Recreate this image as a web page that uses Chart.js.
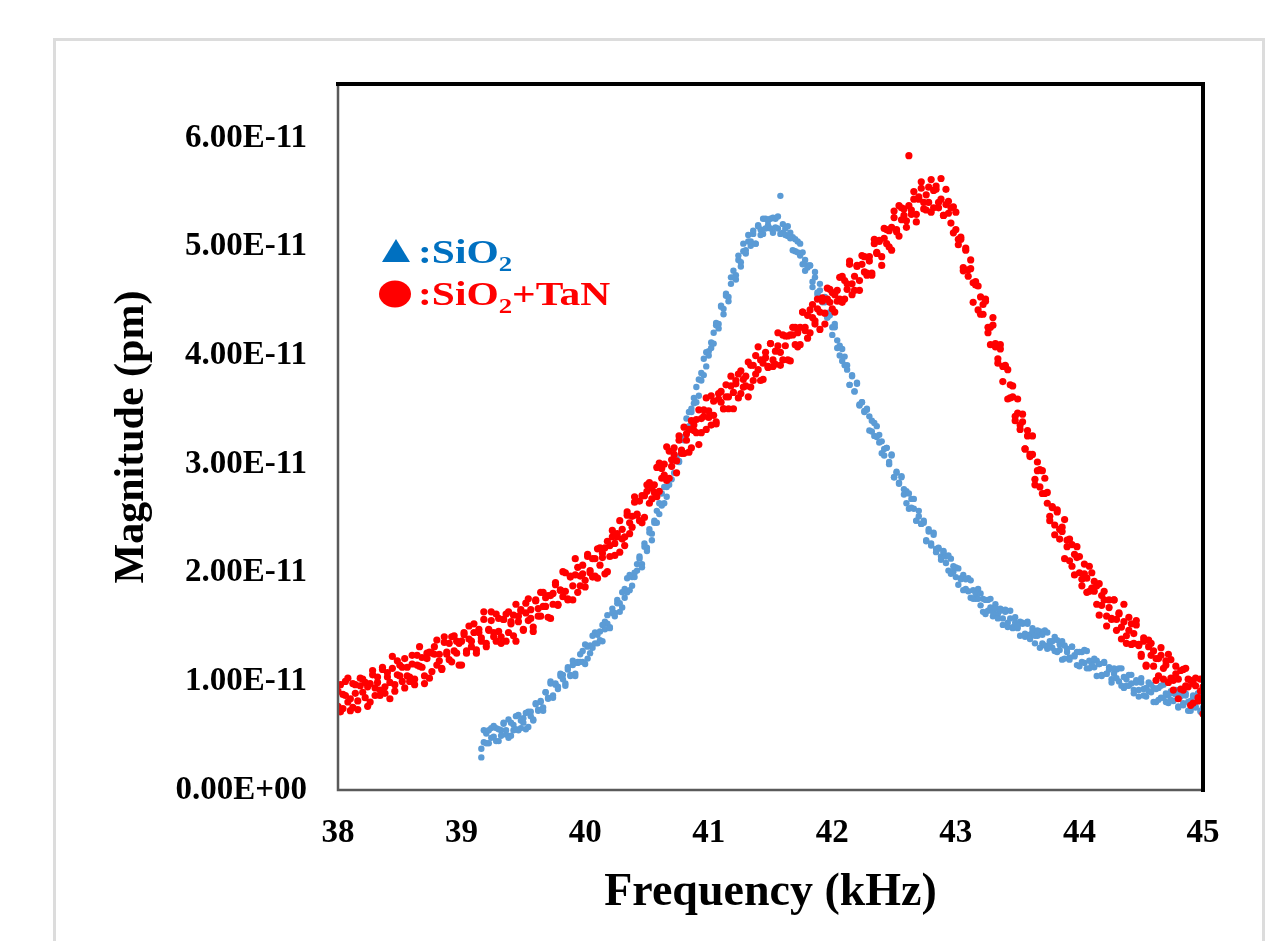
<!DOCTYPE html>
<html>
<head>
<meta charset="utf-8">
<title>Magnitude vs Frequency</title>
<script src="https://cdn.jsdelivr.net/npm/chart.js@4.4.1/dist/chart.umd.min.js"></script>
<style>
  html, body { margin: 0; padding: 0; background: #fff; }
  #wrap { position: relative; width: 1280px; height: 941px; overflow: hidden; }
  #frame { position: absolute; left: 53px; top: 38px; width: 1206px; height: 920px;
           border: 3px solid #dcdcdc; border-bottom: none; }
  #chart { position: absolute; left: 0; top: 0; }
</style>
</head>
<body>
<div id="wrap">
  <div id="frame"></div>
  <canvas id="chart" width="1280" height="941"></canvas>
</div>
<script>
// frequency sweep (kHz), shared by both samples and both sweeps
const freqKHz = [
  38.00,38.02,38.04,38.06,38.08,38.10,38.12,38.14,38.16,38.18,38.20,38.22,38.24,38.26,38.28,38.30,38.32,38.34,38.36,38.38,38.40,38.42,38.44,38.46,38.48,
  38.50,38.52,38.54,38.56,38.58,38.60,38.62,38.64,38.66,38.68,38.70,38.72,38.74,38.76,38.78,38.80,38.82,38.84,38.86,38.88,38.90,38.92,38.94,38.96,38.98,
  39.00,39.02,39.04,39.06,39.08,39.10,39.12,39.14,39.16,39.18,39.20,39.22,39.24,39.26,39.28,39.30,39.32,39.34,39.36,39.38,39.40,39.42,39.44,39.46,39.48,
  39.50,39.52,39.54,39.56,39.58,39.60,39.62,39.64,39.66,39.68,39.70,39.72,39.74,39.76,39.78,39.80,39.82,39.84,39.86,39.88,39.90,39.92,39.94,39.96,39.98,
  40.00,40.02,40.04,40.06,40.08,40.10,40.12,40.14,40.16,40.18,40.20,40.22,40.24,40.26,40.28,40.30,40.32,40.34,40.36,40.38,40.40,40.42,40.44,40.46,40.48,
  40.50,40.52,40.54,40.56,40.58,40.60,40.62,40.64,40.66,40.68,40.70,40.72,40.74,40.76,40.78,40.80,40.82,40.84,40.86,40.88,40.90,40.92,40.94,40.96,40.98,
  41.00,41.02,41.04,41.06,41.08,41.10,41.12,41.14,41.16,41.18,41.20,41.22,41.24,41.26,41.28,41.30,41.32,41.34,41.36,41.38,41.40,41.42,41.44,41.46,41.48,
  41.50,41.52,41.54,41.56,41.58,41.60,41.62,41.64,41.66,41.68,41.70,41.72,41.74,41.76,41.78,41.80,41.82,41.84,41.86,41.88,41.90,41.92,41.94,41.96,41.98,
  42.00,42.02,42.04,42.06,42.08,42.10,42.12,42.14,42.16,42.18,42.20,42.22,42.24,42.26,42.28,42.30,42.32,42.34,42.36,42.38,42.40,42.42,42.44,42.46,42.48,
  42.50,42.52,42.54,42.56,42.58,42.60,42.62,42.64,42.66,42.68,42.70,42.72,42.74,42.76,42.78,42.80,42.82,42.84,42.86,42.88,42.90,42.92,42.94,42.96,42.98,
  43.00,43.02,43.04,43.06,43.08,43.10,43.12,43.14,43.16,43.18,43.20,43.22,43.24,43.26,43.28,43.30,43.32,43.34,43.36,43.38,43.40,43.42,43.44,43.46,43.48,
  43.50,43.52,43.54,43.56,43.58,43.60,43.62,43.64,43.66,43.68,43.70,43.72,43.74,43.76,43.78,43.80,43.82,43.84,43.86,43.88,43.90,43.92,43.94,43.96,43.98,
  44.00,44.02,44.04,44.06,44.08,44.10,44.12,44.14,44.16,44.18,44.20,44.22,44.24,44.26,44.28,44.30,44.32,44.34,44.36,44.38,44.40,44.42,44.44,44.46,44.48,
  44.50,44.52,44.54,44.56,44.58,44.60,44.62,44.64,44.66,44.68,44.70,44.72,44.74,44.76,44.78,44.80,44.82,44.84,44.86,44.88,44.90,44.92,44.94,44.96,44.98,
  45.00
];

// SiO2+TaN magnitude, units of 1E-11, first sweep
const tanMagA = [
  0.91,0.72,0.88,1.00,0.81,0.73,0.98,0.89,0.82,1.03,0.90,0.99,0.77,0.98,1.06,0.87,0.99,0.92,1.13,0.89,1.08,0.99,1.23,0.91,1.06,
  1.15,1.00,1.21,1.05,1.00,1.16,0.97,1.24,1.14,1.22,0.98,1.21,1.27,1.09,1.25,1.38,1.19,1.11,1.36,1.27,1.20,1.41,1.28,1.37,1.15,
  1.37,1.45,1.26,1.39,1.32,1.53,1.29,1.48,1.40,1.64,1.32,1.47,1.56,1.41,1.62,1.46,1.41,1.57,1.37,1.64,1.53,1.61,1.37,1.60,1.66,
  1.47,1.63,1.76,1.58,1.50,1.75,1.67,1.60,1.82,1.69,1.79,1.58,1.81,1.89,1.71,1.84,1.78,2.00,1.76,1.96,1.88,2.13,1.82,1.97,2.07,
  1.93,2.15,2.00,1.96,2.13,1.95,2.23,2.14,2.23,2.01,2.25,2.33,2.16,2.33,2.48,2.31,2.25,2.53,2.46,2.42,2.65,2.54,2.66,2.46,2.71,
  2.81,2.64,2.78,2.74,2.97,2.75,2.96,2.90,3.16,2.87,3.04,3.15,3.03,3.26,3.13,3.10,3.28,3.11,3.40,3.31,3.41,3.18,3.42,3.50,3.32,
  3.49,3.63,3.45,3.39,3.65,3.57,3.51,3.73,3.62,3.72,3.51,3.74,3.83,3.65,3.78,3.72,3.94,3.71,3.91,3.83,4.08,3.77,3.93,4.03,3.89,
  4.11,3.96,3.92,4.09,3.91,4.19,4.09,4.18,3.95,4.19,4.26,4.08,4.26,4.40,4.23,4.16,4.42,4.35,4.29,4.52,4.40,4.50,4.29,4.52,4.61,
  4.43,4.56,4.50,4.72,4.49,4.69,4.61,4.87,4.56,4.73,4.83,4.69,4.92,4.77,4.74,4.91,4.74,5.03,4.95,5.05,4.83,5.08,5.16,5.00,5.18,
  5.33,5.16,5.10,5.36,5.29,5.24,5.84,5.34,5.44,5.23,5.46,5.54,5.35,5.48,5.41,5.62,5.36,5.53,5.41,5.63,5.29,5.39,5.42,5.22,5.37,
  5.16,5.02,5.09,4.81,4.99,4.79,4.80,4.49,4.65,4.64,4.38,4.47,4.52,4.26,4.10,4.28,4.11,3.97,4.10,3.90,3.91,3.60,3.73,3.72,3.44,
  3.47,3.32,3.46,3.14,3.26,3.09,3.26,2.86,2.94,2.95,2.73,2.87,2.64,2.52,2.61,2.35,2.56,2.40,2.42,2.13,2.30,2.31,2.06,2.17,2.24,
  2.00,1.88,2.08,1.95,1.83,2.00,1.83,1.88,1.61,1.79,1.83,1.60,1.68,1.58,1.75,1.47,1.63,1.50,1.71,1.35,1.47,1.53,1.35,1.52,1.33,
  1.25,1.37,1.15,1.38,1.24,1.28,1.01,1.21,1.24,1.02,1.15,1.25,1.03,0.92,1.14,1.02,0.93,1.11,0.96,1.02,0.78,0.98,1.03,0.82,0.91,
  0.70
];

// SiO2+TaN magnitude, units of 1E-11, second sweep
const tanMagB = [
  0.77,0.97,0.75,0.87,1.03,0.84,0.76,0.97,0.74,0.96,1.02,0.85,0.95,0.81,1.10,0.94,1.04,0.87,1.11,0.95,1.04,0.84,1.12,0.97,1.19,
  1.05,1.13,0.94,1.13,1.04,1.24,1.02,1.15,1.32,1.13,1.05,1.26,1.03,1.26,1.32,1.15,1.25,1.12,1.41,1.25,1.35,1.18,1.42,1.26,1.35,
  1.15,1.43,1.28,1.51,1.37,1.45,1.26,1.45,1.37,1.57,1.35,1.48,1.64,1.45,1.37,1.58,1.35,1.57,1.62,1.45,1.55,1.42,1.71,1.55,1.65,
  1.48,1.72,1.56,1.66,1.46,1.74,1.60,1.82,1.69,1.77,1.59,1.79,1.71,1.91,1.70,1.84,2.01,1.83,1.75,1.97,1.75,1.98,2.05,1.88,1.99,
  1.87,2.17,2.02,2.13,1.97,2.22,2.07,2.18,1.99,2.29,2.15,2.39,2.27,2.36,2.19,2.40,2.33,2.56,2.36,2.52,2.70,2.53,2.48,2.71,2.51,
  2.75,2.83,2.68,2.81,2.70,3.01,2.87,3.00,2.85,3.12,2.98,3.09,2.92,3.22,3.10,3.34,3.22,3.32,3.15,3.36,3.29,3.50,3.29,3.44,3.61,
  3.43,3.36,3.58,3.37,3.60,3.67,3.51,3.62,3.51,3.81,3.66,3.77,3.61,3.86,3.71,3.81,3.62,3.91,3.77,4.00,3.87,3.96,3.78,3.98,3.90,
  4.11,3.90,4.04,4.21,4.03,3.96,4.18,3.96,4.19,4.26,4.10,4.21,4.10,4.40,4.26,4.37,4.21,4.47,4.32,4.43,4.24,4.53,4.39,4.62,4.49,
  4.58,4.40,4.60,4.52,4.73,4.52,4.66,4.84,4.66,4.60,4.82,4.60,4.84,4.91,4.76,4.87,4.76,5.07,4.94,5.06,4.91,5.17,5.03,5.15,4.97,
  5.27,5.14,5.38,5.25,5.35,5.18,5.38,5.30,5.51,5.30,5.44,5.60,5.41,5.34,5.55,5.32,5.52,5.56,5.36,5.44,5.29,5.53,5.31,5.36,5.13,
  5.32,5.07,5.07,4.78,4.97,4.73,4.88,4.67,4.68,4.42,4.54,4.38,4.50,4.21,4.26,4.35,4.08,3.93,4.06,3.76,3.90,3.87,3.61,3.62,3.40,
  3.60,3.36,3.39,3.14,3.31,3.07,3.09,2.81,3.02,2.79,2.94,2.73,2.74,2.48,2.60,2.44,2.58,2.31,2.38,2.49,2.24,2.11,2.26,1.98,2.14,
  2.15,1.94,1.99,1.82,2.06,1.86,1.92,1.71,1.90,1.70,1.75,1.51,1.75,1.57,1.75,1.57,1.62,1.39,1.55,1.42,1.59,1.34,1.44,1.56,1.34,
  1.23,1.40,1.14,1.32,1.35,1.14,1.21,1.05,1.31,1.12,1.19,0.99,1.20,1.01,1.07,0.84,1.10,0.92,1.12,0.95,1.01,0.80,0.96,0.85,1.02,
  0.95
];

// SiO2 magnitude, units of 1E-11; this sample's sweep starts at 39.16 kHz
const sio2StartKHz = 39.16;
const sio2MagA = [
  0.30,0.44,0.52,0.43,0.57,0.49,0.57,0.45,0.55,0.61,0.51,0.65,0.50,0.60,0.56,0.69,0.57,
  0.66,0.56,0.72,0.68,0.64,0.79,0.74,0.82,0.73,0.90,0.84,1.00,0.87,0.97,0.95,1.05,1.06,0.98,1.13,1.06,1.15,1.05,1.17,1.25,1.18,
  1.34,1.21,1.33,1.31,1.45,1.35,1.46,1.37,1.55,1.53,1.50,1.67,1.63,1.72,1.64,1.82,1.77,1.95,1.84,1.96,1.96,2.08,2.13,2.08,2.27,
  2.23,2.37,2.30,2.46,2.57,2.54,2.73,2.64,2.79,2.81,2.98,2.92,3.07,3.02,3.23,3.25,3.27,3.48,3.48,3.61,3.57,3.78,3.77,3.97,3.90,
  4.04,4.07,4.21,4.28,4.25,4.45,4.43,4.57,4.50,4.66,4.78,4.74,4.92,4.82,4.96,4.97,5.11,5.01,5.12,5.03,5.20,5.16,5.12,5.26,5.20,
  5.26,5.13,5.26,5.17,5.47,5.13,5.17,5.10,5.13,5.09,4.96,5.05,4.92,4.95,4.78,4.83,4.83,4.68,4.77,4.56,4.60,4.49,4.54,4.35,4.37,
  4.19,4.26,4.14,4.00,4.06,3.91,3.91,3.73,3.82,3.67,3.75,3.55,3.57,3.48,3.50,3.44,3.30,3.38,3.25,3.27,3.10,3.14,3.15,3.00,3.09,
  2.88,2.92,2.83,2.89,2.72,2.75,2.59,2.68,2.59,2.48,2.57,2.45,2.46,2.30,2.40,2.27,2.37,2.19,2.22,2.15,2.19,2.15,2.02,2.13,2.01,
  2.05,1.89,1.95,1.98,1.85,1.95,1.77,1.84,1.76,1.85,1.70,1.76,1.62,1.75,1.68,1.60,1.71,1.62,1.65,1.52,1.64,1.54,1.65,1.49,1.54,
  1.49,1.55,1.53,1.41,1.53,1.43,1.49,1.35,1.42,1.46,1.35,1.47,1.30,1.37,1.31,1.41,1.27,1.34,1.20,1.33,1.27,1.20,1.32,1.23,1.27,
  1.14,1.27,1.17,1.28,1.12,1.18,1.13,1.19,1.16,1.05,1.17,1.07,1.13,0.99,1.07,1.11,1.00,1.12,0.94,1.02,0.96,1.06,0.92,0.99,0.86,
  0.99,0.93,0.86,0.99,0.90,0.94,0.81,0.94,0.85,0.97,0.81,0.87,0.83,0.89,0.88,0.77,0.90,0.80,0.87,0.73,0.82,0.87,0.76,0.89,0.72,
  0.81
];

const sio2MagB = [
  0.38,0.55,0.43,0.55,0.48,0.59,0.45,0.56,0.50,0.62,0.55,0.48,0.62,0.55,0.68,0.55,0.64,
  0.62,0.71,0.58,0.72,0.65,0.80,0.73,0.81,0.76,0.90,0.85,0.98,0.85,0.98,0.93,1.07,1.02,0.96,1.11,1.05,1.19,1.07,1.18,1.18,1.28,
  1.16,1.32,1.26,1.42,1.35,1.43,1.38,1.52,1.48,1.61,1.49,1.63,1.60,1.75,1.72,1.68,1.85,1.82,1.98,1.88,2.00,2.02,2.15,2.05,2.24,
  2.20,2.40,2.36,2.48,2.46,2.64,2.62,2.79,2.70,2.87,2.86,3.04,3.04,3.03,3.23,3.22,3.42,3.35,3.51,3.56,3.71,3.63,3.84,3.82,4.03,
  4.00,4.12,4.11,4.30,4.29,4.46,4.38,4.55,4.54,4.72,4.72,4.70,4.88,4.86,5.03,4.94,5.05,5.05,5.15,5.03,5.19,5.11,5.26,5.17,5.24,
  5.17,5.27,5.18,5.28,5.12,5.21,5.11,5.19,5.08,4.97,5.07,4.95,5.03,4.84,4.88,4.81,4.83,4.63,4.72,4.58,4.66,4.50,4.49,4.35,4.40,
  4.26,4.29,4.07,4.09,3.95,3.99,3.87,3.73,3.81,3.67,3.74,3.54,3.57,3.49,3.51,3.31,3.40,3.26,3.35,3.20,3.21,3.08,3.15,3.02,3.08,
  2.88,2.93,2.82,2.88,2.77,2.64,2.73,2.60,2.68,2.48,2.52,2.45,2.48,2.29,2.38,2.25,2.35,2.22,2.23,2.12,2.20,2.09,2.16,1.99,2.06,
  1.96,2.04,1.94,1.84,1.94,1.83,1.93,1.76,1.81,1.76,1.81,1.64,1.75,1.65,1.76,1.64,1.67,1.58,1.67,1.58,1.66,1.50,1.58,1.50,1.59,
  1.51,1.42,1.54,1.44,1.55,1.39,1.46,1.42,1.47,1.31,1.43,1.33,1.45,1.33,1.37,1.28,1.38,1.29,1.37,1.21,1.30,1.22,1.32,1.24,1.15,
  1.27,1.18,1.29,1.12,1.19,1.15,1.21,1.05,1.16,1.06,1.18,1.07,1.11,1.02,1.12,1.03,1.12,0.96,1.04,0.96,1.06,0.98,0.89,1.01,0.92,
  1.03,0.87,0.94,0.91,0.97,0.81,0.93,0.83,0.96,0.85,0.89,0.80,0.91,0.82,0.92,0.76,0.86,0.78,0.89,0.81,0.73,0.86,0.77,0.89,0.73,
  0.76
];

const xTicks = [38, 39, 40, 41, 42, 43, 44, 45];
const yTickLabels = ['0.00E+00', '1.00E-11', '2.00E-11', '3.00E-11', '4.00E-11', '5.00E-11', '6.00E-11'];

const SERIF = "'Liberation Serif', 'Times New Roman', serif";
const BLUE_PTS = '#5b9bd5';
const BLUE_TXT = '#0070c0';
const RED = '#ff0000';

function toPoints(freqs, mags) {
    return mags.map((m, i) => ({ x: freqs[i], y: m }));
}

const sio2Freq = freqKHz.slice(freqKHz.indexOf(sio2StartKHz));
const tanPoints = toPoints(freqKHz, tanMagA).concat(toPoints(freqKHz, tanMagB));
const sio2Points = toPoints(sio2Freq, sio2MagA).concat(toPoints(sio2Freq, sio2MagB));

// plot box: black top/right edges, grey left/bottom axes
const frameLines = {
    id: 'frameLines',
    afterDatasetsDraw(chart) {
        const { ctx, chartArea: a } = chart;
        ctx.save();
        ctx.lineCap = 'square';
        ctx.strokeStyle = '#5a5a5a';
        ctx.lineWidth = 2.5;
        ctx.beginPath();
        ctx.moveTo(a.left, a.top);
        ctx.lineTo(a.left, a.bottom);
        ctx.lineTo(a.right, a.bottom);
        ctx.stroke();
        ctx.strokeStyle = '#000';
        ctx.lineWidth = 4;
        ctx.beginPath();
        ctx.moveTo(a.left, a.top);
        ctx.lineTo(a.right, a.top);
        ctx.lineTo(a.right, a.bottom);
        ctx.stroke();
        ctx.restore();
    }
};

// legend written as text inside the plot, stretched like the original text box
const sampleLegend = {
    id: 'sampleLegend',
    afterDraw(chart) {
        const { ctx, chartArea: a } = chart;
        const x0 = a.left + 44;
        const tx = a.left + 80;
        const stretch = 1.22;
        ctx.save();

        // blue triangle
        ctx.fillStyle = BLUE_TXT;
        ctx.beginPath();
        ctx.moveTo(x0, a.top + 178);
        ctx.lineTo(x0 + 28, a.top + 178);
        ctx.lineTo(x0 + 14, a.top + 155);
        ctx.closePath();
        ctx.fill();

        // red circle
        ctx.fillStyle = RED;
        ctx.beginPath();
        ctx.ellipse(x0 + 13, a.top + 210, 16, 13.5, 0, 0, Math.PI * 2);
        ctx.fill();

        function line(y, color, parts) {
            ctx.save();
            ctx.translate(tx, y);
            ctx.scale(stretch, 1);
            ctx.fillStyle = color;
            ctx.textBaseline = 'alphabetic';
            let cx = 0;
            parts.forEach(p => {
                ctx.font = p.sub ? `bold 22px ${SERIF}` : `bold 34px ${SERIF}`;
                ctx.fillText(p.t, cx, p.sub ? 8 : 0);
                cx += ctx.measureText(p.t).width;
            });
            ctx.restore();
        }
        line(a.top + 179, BLUE_TXT, [{ t: ':SiO' }, { t: '2', sub: true }]);
        line(a.top + 221, RED, [{ t: ':SiO' }, { t: '2', sub: true }, { t: '+TaN' }]);
        ctx.restore();
    }
};

new Chart(document.getElementById('chart'), {
    type: 'scatter',
    data: {
        datasets: [
            {
                label: 'SiO2+TaN',
                data: tanPoints,
                order: 1,
                pointRadius: 3.6,
                pointBorderWidth: 0,
                backgroundColor: RED,
                borderColor: RED
            },
            {
                label: 'SiO2',
                data: sio2Points,
                order: 2,
                pointRadius: 3.2,
                pointBorderWidth: 0,
                backgroundColor: BLUE_PTS,
                borderColor: BLUE_PTS
            }
        ]
    },
    options: {
        responsive: false,
        animation: false,
        events: [],
        layout: { padding: { top: 84, right: 77, bottom: 0, left: 0 } },
        plugins: {
            legend: { display: false },
            tooltip: { enabled: false }
        },
        scales: {
            x: {
                type: 'linear',
                min: 38,
                max: 45,
                afterFit: s => { s.height = 151; },
                afterBuildTicks: s => { s.ticks = xTicks.map(v => ({ value: v })); },
                grid: { display: false, drawTicks: false },
                border: { display: false },
                ticks: {
                    padding: 24,
                    color: '#000',
                    font: { family: SERIF, size: 33, weight: 'bold' }
                },
                title: {
                    display: true,
                    text: 'Frequency (kHz)',
                    color: '#000',
                    font: { family: SERIF, size: 46, weight: 'bold' },
                    padding: { top: 0, bottom: 20 }
                }
            },
            y: {
                min: 0,
                max: 6.5,
                afterFit: s => { s.width = 338; },
                afterBuildTicks: s => { s.ticks = yTickLabels.map((t, i) => ({ value: i })); },
                grid: { display: false, drawTicks: false },
                border: { display: false },
                ticks: {
                    padding: 31,
                    color: '#000',
                    font: { family: SERIF, size: 33, weight: 'bold' },
                    callback: (v, i) => yTickLabels[i]
                },
                title: {
                    display: true,
                    text: 'Magnitude (pm)',
                    color: '#000',
                    font: { family: SERIF, size: 42, weight: 'bold' },
                    padding: { top: 107, bottom: 0 }
                }
            }
        }
    },
    plugins: [frameLines, sampleLegend]
});
</script>
</body>
</html>
